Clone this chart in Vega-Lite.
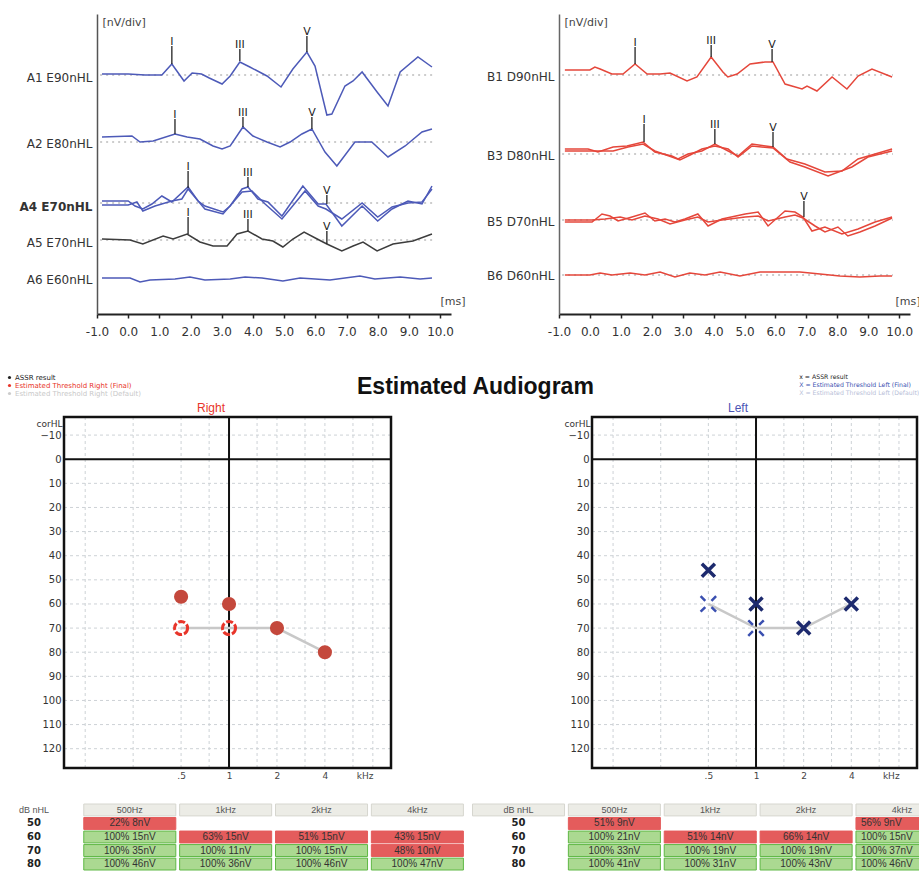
{
"$schema":"https://vega.github.io/schema/vega-lite/v6.json",
"background":"white",
"padding":{"left":6,"top":14,"right":0,"bottom":0},
"config":{"view":{"stroke":null},"font":"DejaVu Sans"},
"title":{"text":"Estimated Audiogram","font":"Liberation Sans","fontSize":23,"fontWeight":"bold","color":"#111111","anchor":"start","frame":"group","dx":260,"dy":408,"offset":0,"baseline":"bottom"},
"columns":2,"bounds":"flush","align":"each","spacing":{"row":103,"column":108},
"resolve":{"scale":{"color":"independent","fill":"independent","stroke":"independent"},"legend":{"color":"independent"}},
"datasets":{
"trL":[
{"s":"A1","t":-0.84,"v":240},{"s":"A1","t":0,"v":240},{"s":"A1","t":0.54,"v":239},{"s":"A1","t":1.08,"v":239},{"s":"A1","t":1.4,"v":250},{"s":"A1","t":1.79,"v":233},{"s":"A1","t":2.05,"v":241},{"s":"A1","t":2.35,"v":240},{"s":"A1","t":2.6,"v":236},{"s":"A1","t":3.01,"v":230},{"s":"A1","t":3.27,"v":238},{"s":"A1","t":3.58,"v":252},{"s":"A1","t":3.9,"v":247},{"s":"A1","t":4.45,"v":238},{"s":"A1","t":4.9,"v":227},{"s":"A1","t":5.28,"v":245},{"s":"A1","t":5.73,"v":262},{"s":"A1","t":5.99,"v":248},{"s":"A1","t":6.37,"v":199},{"s":"A1","t":6.53,"v":200},{"s":"A1","t":6.95,"v":228},{"s":"A1","t":7.21,"v":233},{"s":"A1","t":7.5,"v":242},{"s":"A1","t":7.98,"v":222},{"s":"A1","t":8.33,"v":208},{"s":"A1","t":8.72,"v":242},{"s":"A1","t":9.29,"v":257},{"s":"A1","t":9.74,"v":247},
{"s":"A2","t":-0.84,"v":177},{"s":"A2","t":0.12,"v":178},{"s":"A2","t":0.38,"v":172},{"s":"A2","t":0.8,"v":173},{"s":"A2","t":1.5,"v":180},{"s":"A2","t":1.89,"v":177},{"s":"A2","t":2.3,"v":175},{"s":"A2","t":2.72,"v":168},{"s":"A2","t":3.01,"v":165},{"s":"A2","t":3.27,"v":168},{"s":"A2","t":3.68,"v":187},{"s":"A2","t":4.0,"v":178},{"s":"A2","t":4.45,"v":172},{"s":"A2","t":4.87,"v":167},{"s":"A2","t":5.19,"v":172},{"s":"A2","t":5.57,"v":180},{"s":"A2","t":5.89,"v":185},{"s":"A2","t":6.31,"v":162},{"s":"A2","t":6.69,"v":148},{"s":"A2","t":7.27,"v":172},{"s":"A2","t":7.81,"v":172},{"s":"A2","t":8.33,"v":157},{"s":"A2","t":8.88,"v":168},{"s":"A2","t":9.42,"v":182},{"s":"A2","t":9.74,"v":185},
{"s":"A3","t":-0.84,"v":113},{"s":"A3","t":0,"v":113},{"s":"A3","t":0.22,"v":108},{"s":"A3","t":0.47,"v":105},{"s":"A3","t":0.76,"v":110},{"s":"A3","t":1.08,"v":118},{"s":"A3","t":1.4,"v":112},{"s":"A3","t":1.92,"v":127},{"s":"A3","t":2.24,"v":113},{"s":"A3","t":2.46,"v":108},{"s":"A3","t":3.04,"v":102},{"s":"A3","t":3.27,"v":108},{"s":"A3","t":3.65,"v":125},{"s":"A3","t":3.84,"v":127},{"s":"A3","t":4.16,"v":115},{"s":"A3","t":4.48,"v":112},{"s":"A3","t":4.93,"v":98},{"s":"A3","t":5.6,"v":128},{"s":"A3","t":6.09,"v":110},{"s":"A3","t":6.34,"v":110},{"s":"A3","t":6.85,"v":88},{"s":"A3","t":7.5,"v":108},{"s":"A3","t":8.0,"v":93},{"s":"A3","t":8.46,"v":105},{"s":"A3","t":8.97,"v":113},{"s":"A3","t":9.42,"v":110},{"s":"A3","t":9.74,"v":128},
{"s":"A4","t":-0.84,"v":109},{"s":"A4","t":0,"v":109},{"s":"A4","t":0.28,"v":112},{"s":"A4","t":0.47,"v":103},{"s":"A4","t":0.86,"v":108},{"s":"A4","t":1.4,"v":113},{"s":"A4","t":1.72,"v":115},{"s":"A4","t":1.92,"v":125},{"s":"A4","t":2.46,"v":105},{"s":"A4","t":3.04,"v":100},{"s":"A4","t":3.65,"v":122},{"s":"A4","t":3.97,"v":123},{"s":"A4","t":4.39,"v":110},{"s":"A4","t":4.93,"v":95},{"s":"A4","t":5.67,"v":123},{"s":"A4","t":6.09,"v":108},{"s":"A4","t":6.34,"v":105},{"s":"A4","t":6.85,"v":95},{"s":"A4","t":7.5,"v":111},{"s":"A4","t":8.0,"v":97},{"s":"A4","t":8.46,"v":107},{"s":"A4","t":8.97,"v":111},{"s":"A4","t":9.42,"v":112},{"s":"A4","t":9.74,"v":125},
{"s":"A5","t":-0.84,"v":75},{"s":"A5","t":0.06,"v":74},{"s":"A5","t":0.47,"v":70},{"s":"A5","t":1.12,"v":78},{"s":"A5","t":1.44,"v":75},{"s":"A5","t":1.89,"v":80},{"s":"A5","t":2.3,"v":72},{"s":"A5","t":2.72,"v":68},{"s":"A5","t":3.17,"v":68},{"s":"A5","t":3.49,"v":80},{"s":"A5","t":3.84,"v":83},{"s":"A5","t":4.29,"v":75},{"s":"A5","t":4.64,"v":73},{"s":"A5","t":4.96,"v":67},{"s":"A5","t":5.28,"v":75},{"s":"A5","t":5.64,"v":82},{"s":"A5","t":6.06,"v":75},{"s":"A5","t":6.37,"v":70},{"s":"A5","t":6.85,"v":63},{"s":"A5","t":7.21,"v":68},{"s":"A5","t":7.53,"v":72},{"s":"A5","t":7.98,"v":63},{"s":"A5","t":8.49,"v":70},{"s":"A5","t":9.13,"v":73},{"s":"A5","t":9.74,"v":80},
{"s":"A6","t":-0.84,"v":36},{"s":"A6","t":0.06,"v":36},{"s":"A6","t":0.38,"v":32},{"s":"A6","t":0.7,"v":34},{"s":"A6","t":1.5,"v":35},{"s":"A6","t":1.98,"v":37},{"s":"A6","t":2.46,"v":34},{"s":"A6","t":3.27,"v":35},{"s":"A6","t":3.75,"v":37},{"s":"A6","t":4.29,"v":36},{"s":"A6","t":4.96,"v":33},{"s":"A6","t":5.51,"v":36},{"s":"A6","t":6.47,"v":34},{"s":"A6","t":7.43,"v":38},{"s":"A6","t":7.91,"v":35},{"s":"A6","t":8.72,"v":37},{"s":"A6","t":9.36,"v":35},{"s":"A6","t":9.74,"v":36}
],
"trR":[
{"s":"B1","t":-0.81,"v":244},{"s":"B1","t":0,"v":244},{"s":"B1","t":0.16,"v":247},{"s":"B1","t":0.33,"v":245},{"s":"B1","t":0.71,"v":240},{"s":"B1","t":1.07,"v":240},{"s":"B1","t":1.46,"v":250},{"s":"B1","t":1.85,"v":240},{"s":"B1","t":2.27,"v":240},{"s":"B1","t":2.59,"v":241},{"s":"B1","t":3.14,"v":233},{"s":"B1","t":3.46,"v":237},{"s":"B1","t":3.92,"v":257},{"s":"B1","t":4.3,"v":242},{"s":"B1","t":4.46,"v":237},{"s":"B1","t":4.76,"v":240},{"s":"B1","t":5.18,"v":250},{"s":"B1","t":5.66,"v":252},{"s":"B1","t":5.92,"v":252},{"s":"B1","t":6.31,"v":230},{"s":"B1","t":6.86,"v":225},{"s":"B1","t":7.02,"v":228},{"s":"B1","t":7.34,"v":223},{"s":"B1","t":7.83,"v":237},{"s":"B1","t":8.31,"v":225},{"s":"B1","t":8.67,"v":238},{"s":"B1","t":9.12,"v":245},{"s":"B1","t":9.77,"v":237},
{"s":"B3a","t":-0.81,"v":165},{"s":"B3a","t":-0.06,"v":165},{"s":"B3a","t":0.26,"v":162},{"s":"B3a","t":0.75,"v":167},{"s":"B3a","t":1.2,"v":168},{"s":"B3a","t":1.72,"v":172},{"s":"B3a","t":2.1,"v":162},{"s":"B3a","t":2.65,"v":158},{"s":"B3a","t":2.85,"v":155},{"s":"B3a","t":3.17,"v":160},{"s":"B3a","t":3.62,"v":163},{"s":"B3a","t":4.04,"v":170},{"s":"B3a","t":4.47,"v":163},{"s":"B3a","t":4.79,"v":158},{"s":"B3a","t":5.24,"v":170},{"s":"B3a","t":5.92,"v":167},{"s":"B3a","t":6.37,"v":155},{"s":"B3a","t":6.95,"v":150},{"s":"B3a","t":7.6,"v":142},{"s":"B3a","t":8.15,"v":143},{"s":"B3a","t":8.67,"v":155},{"s":"B3a","t":9.22,"v":160},{"s":"B3a","t":9.77,"v":165},
{"s":"B3b","t":-0.81,"v":163},{"s":"B3b","t":-0.06,"v":163},{"s":"B3b","t":0.26,"v":163},{"s":"B3b","t":0.75,"v":163},{"s":"B3b","t":1.23,"v":167},{"s":"B3b","t":1.72,"v":170},{"s":"B3b","t":2.1,"v":163},{"s":"B3b","t":2.65,"v":157},{"s":"B3b","t":2.91,"v":154},{"s":"B3b","t":3.24,"v":159},{"s":"B3b","t":3.62,"v":165},{"s":"B3b","t":4.04,"v":168},{"s":"B3b","t":4.47,"v":165},{"s":"B3b","t":4.79,"v":157},{"s":"B3b","t":5.24,"v":168},{"s":"B3b","t":5.92,"v":166},{"s":"B3b","t":6.47,"v":152},{"s":"B3b","t":6.95,"v":147},{"s":"B3b","t":7.7,"v":138},{"s":"B3b","t":8.47,"v":147},{"s":"B3b","t":8.99,"v":157},{"s":"B3b","t":9.77,"v":163},
{"s":"B5a","t":-0.81,"v":92},{"s":"B5a","t":0.07,"v":92},{"s":"B5a","t":0.39,"v":100},{"s":"B5a","t":0.65,"v":98},{"s":"B5a","t":0.91,"v":93},{"s":"B5a","t":1.36,"v":97},{"s":"B5a","t":1.78,"v":101},{"s":"B5a","t":2.1,"v":93},{"s":"B5a","t":2.43,"v":95},{"s":"B5a","t":2.75,"v":92},{"s":"B5a","t":3.07,"v":95},{"s":"B5a","t":3.49,"v":100},{"s":"B5a","t":3.82,"v":88},{"s":"B5a","t":4.27,"v":95},{"s":"B5a","t":5.02,"v":100},{"s":"B5a","t":5.44,"v":102},{"s":"B5a","t":5.76,"v":88},{"s":"B5a","t":6.31,"v":103},{"s":"B5a","t":6.63,"v":102},{"s":"B5a","t":6.89,"v":97},{"s":"B5a","t":7.18,"v":83},{"s":"B5a","t":7.6,"v":87},{"s":"B5a","t":8.15,"v":80},{"s":"B5a","t":8.67,"v":85},{"s":"B5a","t":9.22,"v":92},{"s":"B5a","t":9.77,"v":97},
{"s":"B5b","t":-0.81,"v":94},{"s":"B5b","t":0.07,"v":94},{"s":"B5b","t":0.49,"v":95},{"s":"B5b","t":0.98,"v":97},{"s":"B5b","t":1.36,"v":94},{"s":"B5b","t":1.78,"v":98},{"s":"B5b","t":2.2,"v":95},{"s":"B5b","t":2.59,"v":90},{"s":"B5b","t":3.07,"v":94},{"s":"B5b","t":3.49,"v":97},{"s":"B5b","t":3.82,"v":92},{"s":"B5b","t":4.27,"v":94},{"s":"B5b","t":5.02,"v":97},{"s":"B5b","t":5.44,"v":98},{"s":"B5b","t":5.76,"v":93},{"s":"B5b","t":6.31,"v":97},{"s":"B5b","t":6.63,"v":99},{"s":"B5b","t":6.89,"v":96},{"s":"B5b","t":7.28,"v":88},{"s":"B5b","t":7.6,"v":82},{"s":"B5b","t":8.02,"v":87},{"s":"B5b","t":8.34,"v":78},{"s":"B5b","t":8.73,"v":82},{"s":"B5b","t":9.22,"v":88},{"s":"B5b","t":9.77,"v":96},
{"s":"B6","t":-0.81,"v":39},{"s":"B6","t":0,"v":39},{"s":"B6","t":0.33,"v":41},{"s":"B6","t":0.71,"v":39},{"s":"B6","t":1.3,"v":41},{"s":"B6","t":1.78,"v":39},{"s":"B6","t":2.27,"v":42},{"s":"B6","t":2.75,"v":37},{"s":"B6","t":3.23,"v":41},{"s":"B6","t":3.72,"v":39},{"s":"B6","t":4.21,"v":42},{"s":"B6","t":4.85,"v":38},{"s":"B6","t":5.5,"v":42},{"s":"B6","t":6.79,"v":42},{"s":"B6","t":7.44,"v":40},{"s":"B6","t":8.08,"v":38},{"s":"B6","t":8.73,"v":37},{"s":"B6","t":9.38,"v":38},{"s":"B6","t":9.77,"v":38}
],
"mkL":[
{"t":1.4,"pk":250,"top":268,"lab":"I"},{"t":3.58,"pk":253,"top":265,"lab":"III"},{"t":5.73,"pk":262,"top":278,"lab":"V"},
{"t":1.5,"pk":180,"top":195,"lab":"I"},{"t":3.68,"pk":187,"top":197,"lab":"III"},{"t":5.89,"pk":185,"top":197,"lab":"V"},
{"t":1.92,"pk":126,"top":143,"lab":"I"},{"t":3.84,"pk":127,"top":137,"lab":"III"},{"t":6.37,"pk":110,"top":119,"lab":"V"},
{"t":1.92,"pk":80,"top":97,"lab":"I"},{"t":3.84,"pk":83,"top":95,"lab":"III"},{"t":6.37,"pk":70,"top":83,"lab":"V"}
],
"mkR":[
{"t":1.46,"pk":250,"top":267,"lab":"I"},{"t":3.92,"pk":257,"top":269,"lab":"III"},{"t":5.89,"pk":252,"top":265,"lab":"V"},
{"t":1.75,"pk":172,"top":190,"lab":"I"},{"t":4.04,"pk":170,"top":185,"lab":"III"},{"t":5.92,"pk":167,"top":182,"lab":"V"},
{"t":6.92,"pk":97,"top":113,"lab":"V"}
],
"baseL":[{"v":239},{"v":172},{"v":111},{"v":74}],
"baseR":[{"v":239},{"v":160},{"v":94},{"v":39}],
"gridV":[{"f":0.125},{"f":0.25},{"f":0.5},{"f":0.75},{"f":1.5},{"f":2},{"f":3},{"f":4},{"f":6},{"f":8}],
"gridH":[{"db":-10},{"db":10},{"db":20},{"db":30},{"db":40},{"db":50},{"db":60},{"db":70},{"db":80},{"db":90},{"db":100},{"db":110},{"db":120}],
"audR":[{"f":0.5,"db":70,"k":"line"},{"f":1,"db":70,"k":"line"},{"f":2,"db":70,"k":"line"},{"f":4,"db":80,"k":"line"},
{"f":0.5,"db":57,"k":"assr"},{"f":1,"db":60,"k":"assr"},{"f":2,"db":70,"k":"assr"},{"f":4,"db":80,"k":"assr"},
{"f":0.5,"db":70,"k":"open"},{"f":1,"db":70,"k":"open"}],
"audL":[{"f":0.5,"db":60,"k":"line"},{"f":1,"db":70,"k":"line"},{"f":2,"db":70,"k":"line"},{"f":4,"db":60,"k":"line"},
{"f":0.5,"db":46,"k":"assr"},{"f":1,"db":60,"k":"assr"},{"f":2,"db":70,"k":"assr"},{"f":4,"db":60,"k":"assr"},
{"f":0.5,"db":60,"k":"open"},{"f":1,"db":70,"k":"open"}],
"tabL":[
{"c":"lab","r":"H","t":"dB nHL","k":"hdr"},{"c":"500Hz","r":"H","t":"500Hz","k":"hdr"},{"c":"1kHz","r":"H","t":"1kHz","k":"hdr"},{"c":"2kHz","r":"H","t":"2kHz","k":"hdr"},{"c":"4kHz","r":"H","t":"4kHz","k":"hdr"},
{"c":"lab","r":"50","t":"50","k":"lab"},{"c":"lab","r":"60","t":"60","k":"lab"},{"c":"lab","r":"70","t":"70","k":"lab"},{"c":"lab","r":"80","t":"80","k":"lab"},
{"c":"500Hz","r":"50","t":"22%  8nV","k":"fail"},
{"c":"500Hz","r":"60","t":"100%  15nV","k":"ok"},{"c":"1kHz","r":"60","t":"63%  15nV","k":"fail"},{"c":"2kHz","r":"60","t":"51%  15nV","k":"fail"},{"c":"4kHz","r":"60","t":"43%  15nV","k":"fail"},
{"c":"500Hz","r":"70","t":"100%  35nV","k":"ok"},{"c":"1kHz","r":"70","t":"100%  11nV","k":"ok"},{"c":"2kHz","r":"70","t":"100%  15nV","k":"ok"},{"c":"4kHz","r":"70","t":"48%  10nV","k":"fail"},
{"c":"500Hz","r":"80","t":"100%  46nV","k":"ok"},{"c":"1kHz","r":"80","t":"100%  36nV","k":"ok"},{"c":"2kHz","r":"80","t":"100%  46nV","k":"ok"},{"c":"4kHz","r":"80","t":"100%  47nV","k":"ok"}
],
"tabR":[
{"c":"lab","r":"H","t":"dB nHL","k":"hdr"},{"c":"500Hz","r":"H","t":"500Hz","k":"hdr"},{"c":"1kHz","r":"H","t":"1kHz","k":"hdr"},{"c":"2kHz","r":"H","t":"2kHz","k":"hdr"},{"c":"4kHz","r":"H","t":"4kHz","k":"hdr"},
{"c":"lab","r":"50","t":"50","k":"lab"},{"c":"lab","r":"60","t":"60","k":"lab"},{"c":"lab","r":"70","t":"70","k":"lab"},{"c":"lab","r":"80","t":"80","k":"lab"},
{"c":"500Hz","r":"50","t":"51%  9nV","k":"fail"},{"c":"4kHz","r":"50","t":"56%  9nV","k":"fail"},
{"c":"500Hz","r":"60","t":"100%  21nV","k":"ok"},{"c":"1kHz","r":"60","t":"51%  14nV","k":"fail"},{"c":"2kHz","r":"60","t":"66%  14nV","k":"fail"},{"c":"4kHz","r":"60","t":"100%  15nV","k":"ok"},
{"c":"500Hz","r":"70","t":"100%  33nV","k":"ok"},{"c":"1kHz","r":"70","t":"100%  19nV","k":"ok"},{"c":"2kHz","r":"70","t":"100%  19nV","k":"ok"},{"c":"4kHz","r":"70","t":"100%  37nV","k":"ok"},
{"c":"500Hz","r":"80","t":"100%  41nV","k":"ok"},{"c":"1kHz","r":"80","t":"100%  31nV","k":"ok"},{"c":"2kHz","r":"80","t":"100%  43nV","k":"ok"},{"c":"4kHz","r":"80","t":"100%  46nV","k":"ok"}
]
},
"concat":[
{
"width":354,"height":300,
"layer":[
{"data":{"name":"baseL"},"mark":{"type":"rule","color":"#9b9b9b","strokeDash":[2,4],"strokeWidth":1.2},
 "encoding":{
  "x":{"datum":-0.9,"type":"quantitative","scale":{"domain":[-1,10.35],"nice":false,"zero":false},
   "axis":{"values":[-1,0,1,2,3,4,5,6,7,8,9,10],"tickCount":30,"labelExpr":"(datum.value<0?'-':'')+format(abs(datum.value),'.1f')","title":"[ms]","titleX":343,"titleY":-10,"titleAlign":"left","titleBaseline":"alphabetic","titleFontWeight":"normal","titleFontSize":11,"titleColor":"#444444","labelFontSize":12,"labelColor":"#333333","labelPadding":8,"tickSize":4,"tickWidth":1.5,"tickColor":"#222222","domainColor":"#222222","domainWidth":2,"grid":false,"labelOverlap":false,"labelFlush":false,"labelBound":false}},
  "x2":{"datum":9.8},
  "y":{"field":"v","type":"quantitative","scale":{"domain":[0,300],"nice":false,"zero":false},
   "axis":{"values":[237,171,108,72,35],"tickCount":30,"labelExpr":"datum.value==237?'A1 E90nHL':datum.value==171?'A2 E80nHL':datum.value==108?'A4 E70nHL':datum.value==72?'A5 E70nHL':'A6 E60nHL'","labelFontSize":12,"labelColor":"#333333","labelPadding":5,"ticks":false,"domainColor":"#555555","domainWidth":1.5,"grid":false,"labelOverlap":false,"labelFlush":false,"labelBound":false,"labelFontWeight":{"condition":{"test":"datum.value==108","value":"bold"},"value":"normal"},"title":"[nV/div]","titleAngle":0,"titleAlign":"left","titleBaseline":"middle","titleX":5,"titleY":8,"titleFontWeight":"normal","titleFontSize":11,"titleColor":"#444444"}}}},
{"data":{"name":"trL"},"mark":{"type":"line","strokeWidth":1.5},
 "encoding":{
  "x":{"field":"t","type":"quantitative"},
  "y":{"field":"v","type":"quantitative"},
  "color":{"field":"s","type":"nominal","scale":{"domain":["A1","A2","A3","A4","A5","A6"],"range":["#4d5ab8","#4d5ab8","#4d5ab8","#4d5ab8","#3d3d3d","#4d5ab8"]},"legend":null}
 }},
{"data":{"name":"mkL"},"mark":{"type":"rule","color":"#222222","strokeWidth":1.3},
 "encoding":{"x":{"field":"t","type":"quantitative"},"y":{"field":"pk","type":"quantitative"},"y2":{"field":"top"}}},
{"data":{"name":"mkL"},"mark":{"type":"text","fontSize":11,"color":"#222222","baseline":"bottom","dy":1},
 "encoding":{"x":{"field":"t","type":"quantitative"},"y":{"field":"top","type":"quantitative"},"text":{"field":"lab"}}}
]
},
{
"width":351,"height":300,
"layer":[
{"data":{"name":"baseR"},"mark":{"type":"rule","color":"#9b9b9b","strokeDash":[2,4],"strokeWidth":1.2},
 "encoding":{
  "x":{"datum":-0.9,"type":"quantitative","scale":{"domain":[-1,10.35],"nice":false,"zero":false},
   "axis":{"values":[-1,0,1,2,3,4,5,6,7,8,9,10],"tickCount":30,"labelExpr":"(datum.value<0?'-':'')+format(abs(datum.value),'.1f')","title":"[ms]","titleX":336,"titleY":-10,"titleAlign":"left","titleBaseline":"alphabetic","titleFontWeight":"normal","titleFontSize":11,"titleColor":"#444444","labelFontSize":12,"labelColor":"#333333","labelPadding":8,"tickSize":4,"tickWidth":1.5,"tickColor":"#222222","domainColor":"#222222","domainWidth":2,"grid":false,"labelOverlap":false,"labelFlush":false,"labelBound":false}},
  "x2":{"datum":9.8},
  "y":{"field":"v","type":"quantitative","scale":{"domain":[0,300],"nice":false,"zero":false},
   "axis":{"values":[238,159,93,39],"tickCount":30,"labelExpr":"datum.value==238?'B1 D90nHL':datum.value==159?'B3 D80nHL':datum.value==93?'B5 D70nHL':'B6 D60nHL'","labelFontSize":12,"labelColor":"#333333","labelPadding":5,"ticks":false,"domainColor":"#666666","domainWidth":1.5,"grid":false,"labelOverlap":false,"labelFlush":false,"labelBound":false,"title":"[nV/div]","titleAngle":0,"titleAlign":"left","titleBaseline":"middle","titleX":5,"titleY":8,"titleFontWeight":"normal","titleFontSize":11,"titleColor":"#444444"}}}},
{"data":{"name":"trR"},"mark":{"type":"line","strokeWidth":1.5},
 "encoding":{
  "x":{"field":"t","type":"quantitative"},
  "y":{"field":"v","type":"quantitative"},
  "color":{"field":"s","type":"nominal","scale":{"domain":["B1","B3a","B3b","B5a","B5b","B6"],"range":["#e5473b","#e5473b","#e5473b","#e5473b","#e5473b","#e5473b"]},"legend":null}
 }},
{"data":{"name":"mkR"},"mark":{"type":"rule","color":"#222222","strokeWidth":1.3},
 "encoding":{"x":{"field":"t","type":"quantitative"},"y":{"field":"pk","type":"quantitative"},"y2":{"field":"top"}}},
{"data":{"name":"mkR"},"mark":{"type":"text","fontSize":11,"color":"#222222","baseline":"bottom","dy":1},
 "encoding":{"x":{"field":"t","type":"quantitative"},"y":{"field":"top","type":"quantitative"},"text":{"field":"lab"}}}
]
},
{
"width":354,"height":351,
"title":{"text":"Right","color":"#e8352a","fontSize":12,"fontWeight":"normal","font":"Liberation Sans","anchor":"start","frame":"group","dx":100,"dy":44,"offset":3},
"layer":[
{"data":{"name":"gridV"},"mark":{"type":"rule","color":"#cdd2d6","strokeDash":[3,3],"strokeWidth":1},
 "encoding":{"x":{"field":"f","type":"quantitative","scale":{"type":"log","domain":[0.092,10.4],"range":[-33,294],"nice":false},
   "axis":{"values":[0.5,1,2,4,7.1],"tickCount":30,"labelExpr":"datum.value==0.5?'.5':datum.value==1?'1':datum.value==2?'2':datum.value==4?'4':'kHz'","labelFontSize":9,"labelColor":"#444444","labelPadding":3,"ticks":false,"domain":false,"grid":false,"title":null,"labelOverlap":false,"labelFlush":false,"labelBound":false}},
  "y":{"datum":-17.5,"type":"quantitative","scale":{"domain":[-17.5,128],"reverse":true,"nice":false,"zero":false},
   "axis":{"values":[-10,0,10,20,30,40,50,60,70,80,90,100,110,120],"tickCount":30,"labelFontSize":10,"labelColor":"#333333","labelPadding":3,"ticks":false,"domain":false,"grid":false,"offset":33,"title":"corHL","titleAngle":0,"titleAlign":"right","titleBaseline":"middle","titleX":-2,"titleY":6,"titleFontSize":9,"titleFontWeight":"normal","titleColor":"#333333","labelOverlap":false,"labelFlush":false,"labelBound":false}},
  "y2":{"datum":128}}},
{"data":{"name":"gridH"},"mark":{"type":"rule","color":"#cdd2d6","strokeDash":[3,3],"strokeWidth":1},
 "encoding":{"y":{"field":"db","type":"quantitative"},"x":{"datum":0.092,"type":"quantitative"},"x2":{"datum":10.4}}},
{"data":{"values":[{}]},"mark":{"type":"rule","color":"#111111","strokeWidth":2},
 "encoding":{"x":{"datum":1,"type":"quantitative"},"y":{"datum":-17.5,"type":"quantitative"},"y2":{"datum":128}}},
{"data":{"values":[{}]},"mark":{"type":"rule","color":"#111111","strokeWidth":2},
 "encoding":{"y":{"datum":0,"type":"quantitative"},"x":{"datum":0.092,"type":"quantitative"},"x2":{"datum":10.4}}},
{"data":{"values":[{}]},"mark":{"type":"rect","fill":"transparent","stroke":"#111111","strokeWidth":2.5},
 "encoding":{"x":{"datum":0.092,"type":"quantitative"},"x2":{"datum":10.4},"y":{"datum":-17.5,"type":"quantitative"},"y2":{"datum":128}}},
{"data":{"name":"audR"},"transform":[{"filter":"datum.k=='line'"}],"mark":{"type":"line","color":"#c8c8c8","strokeWidth":2.5},
 "encoding":{"x":{"field":"f","type":"quantitative"},"y":{"field":"db","type":"quantitative"}}},
{"data":{"name":"audR"},"transform":[{"filter":"datum.k=='assr'"}],"mark":{"type":"point","shape":"circle","filled":true,"size":200,"color":"#c4483c","opacity":1},
 "encoding":{"x":{"field":"f","type":"quantitative"},"y":{"field":"db","type":"quantitative"}}},
{"data":{"name":"audR"},"transform":[{"filter":"datum.k=='open'"}],"mark":{"type":"point","shape":"circle","filled":false,"size":170,"color":"#e8352a","strokeWidth":3,"strokeDash":[7,2],"opacity":1},
 "encoding":{"x":{"field":"f","type":"quantitative"},"y":{"field":"db","type":"quantitative"}}},
{"data":{"values":[{"item":"ASSR result"},{"item":"Estimated Threshold Right (Final)"},{"item":"Estimated Threshold Right (Default)"}]},
 "mark":{"type":"point","opacity":0,"size":0,"filled":true},
 "encoding":{"color":{"field":"item","type":"nominal","scale":{"domain":["ASSR result","Estimated Threshold Right (Final)","Estimated Threshold Right (Default)"],"range":["#222222","#e8352a","#cccccc"]},
  "legend":{"orient":"none","legendX":-91,"legendY":-43,"title":null,"labelFontSize":7,"symbolSize":10,"symbolType":"circle","symbolOpacity":1,"symbolStrokeWidth":0,"rowPadding":0,"labelOffset":2,"labelLimit":300,"padding":0,
   "encode":{"labels":{"update":{"fill":{"signal":"datum.index==0?'#222222':datum.index==1?'#e8352a':'#c9c9c9'"}}}}}}}}
]
},
{
"width":358,"height":351,
"title":{"text":"Left","color":"#4b55b5","fontSize":12,"fontWeight":"normal","font":"Liberation Sans","anchor":"start","frame":"group","dx":169,"dy":44,"offset":3},
"layer":[
{"data":{"name":"gridV"},"mark":{"type":"rule","color":"#cdd2d6","strokeDash":[3,3],"strokeWidth":1},
 "encoding":{"x":{"field":"f","type":"quantitative","scale":{"type":"log","domain":[0.092,10.4],"range":[33,358],"nice":false},
   "axis":{"values":[0.5,1,2,4,7.1],"tickCount":30,"labelExpr":"datum.value==0.5?'.5':datum.value==1?'1':datum.value==2?'2':datum.value==4?'4':'kHz'","labelFontSize":9,"labelColor":"#444444","labelPadding":3,"ticks":false,"domain":false,"grid":false,"title":null,"labelOverlap":false,"labelFlush":false,"labelBound":false}},
  "y":{"datum":-17.5,"type":"quantitative","scale":{"domain":[-17.5,128],"reverse":true,"nice":false,"zero":false},
   "axis":{"values":[-10,0,10,20,30,40,50,60,70,80,90,100,110,120],"tickCount":30,"labelFontSize":10,"labelColor":"#333333","labelPadding":3,"ticks":false,"domain":false,"grid":false,"offset":-33,"title":"corHL","titleAngle":0,"titleAlign":"right","titleBaseline":"middle","titleX":-2,"titleY":6,"titleFontSize":9,"titleFontWeight":"normal","titleColor":"#333333","labelOverlap":false,"labelFlush":false,"labelBound":false}},
  "y2":{"datum":128}}},
{"data":{"name":"gridH"},"mark":{"type":"rule","color":"#cdd2d6","strokeDash":[3,3],"strokeWidth":1},
 "encoding":{"y":{"field":"db","type":"quantitative"},"x":{"datum":0.092,"type":"quantitative"},"x2":{"datum":10.4}}},
{"data":{"values":[{}]},"mark":{"type":"rule","color":"#111111","strokeWidth":2},
 "encoding":{"x":{"datum":1,"type":"quantitative"},"y":{"datum":-17.5,"type":"quantitative"},"y2":{"datum":128}}},
{"data":{"values":[{}]},"mark":{"type":"rule","color":"#111111","strokeWidth":2},
 "encoding":{"y":{"datum":0,"type":"quantitative"},"x":{"datum":0.092,"type":"quantitative"},"x2":{"datum":10.4}}},
{"data":{"values":[{}]},"mark":{"type":"rect","fill":"transparent","stroke":"#111111","strokeWidth":2.5},
 "encoding":{"x":{"datum":0.092,"type":"quantitative"},"x2":{"datum":10.4},"y":{"datum":-17.5,"type":"quantitative"},"y2":{"datum":128}}},
{"data":{"name":"audL"},"transform":[{"filter":"datum.k=='line'"}],"mark":{"type":"line","color":"#c8c8c8","strokeWidth":2.5},
 "encoding":{"x":{"field":"f","type":"quantitative"},"y":{"field":"db","type":"quantitative"}}},
{"data":{"name":"audL"},"transform":[{"filter":"datum.k=='assr'"}],"mark":{"type":"point","shape":"M-1,-1L1,1M-1,1L1,-1","filled":false,"size":170,"color":"#1d2a6e","strokeWidth":3.5,"opacity":1},
 "encoding":{"x":{"field":"f","type":"quantitative"},"y":{"field":"db","type":"quantitative"}}},
{"data":{"name":"audL"},"transform":[{"filter":"datum.k=='open'"}],"mark":{"type":"point","shape":"M-1,-1L-0.4,-0.4M1,-1L0.4,-0.4M-1,1L-0.4,0.4M1,1L0.4,0.4","filled":false,"size":240,"color":"#3a4fb0","strokeWidth":2.5,"opacity":1},
 "encoding":{"x":{"field":"f","type":"quantitative"},"y":{"field":"db","type":"quantitative"}}},
{"data":{"values":[{"item":"x = ASSR result"},{"item":"X = Estimated Threshold Left (Final)"},{"item":"X = Estimated Threshold Left (Default)"}]},
 "mark":{"type":"point","opacity":0,"size":0,"filled":true},
 "encoding":{"color":{"field":"item","type":"nominal","scale":{"domain":["x = ASSR result","X = Estimated Threshold Left (Final)","X = Estimated Threshold Left (Default)"],"range":["#222222","#3a4fb0","#c0c8dd"]},
  "legend":{"orient":"none","legendX":234,"legendY":-43,"title":null,"labelFontSize":6.2,"symbolSize":1,"symbolType":"circle","symbolOpacity":0,"symbolStrokeWidth":0,"rowPadding":1,"labelOffset":0,"labelLimit":300,"padding":0,
   "encode":{"labels":{"update":{"fill":{"signal":"datum.index==0?'#222222':datum.index==1?'#3a4fb0':'#b8c0d8'"}}}}}}}}
]
},
{
"width":354,"height":2,
"data":{"name":"tabL"},
"encoding":{
 "x":{"field":"c","type":"nominal","scale":{"domain":["lab","500Hz","1kHz","2kHz","4kHz"],"range":[-109.1,366.4],"paddingInner":0.04,"paddingOuter":0},"axis":null},
 "y":{"field":"r","type":"nominal","scale":{"domain":["H","50","60","70","80"],"range":[-67,-1],"paddingInner":0.12,"paddingOuter":0},"axis":null}
},
"layer":[
{"transform":[{"filter":"datum.k=='hdr' && datum.c!='lab'"}],"mark":{"type":"rect","fill":"#ecece6","stroke":"#d6d6cf","strokeWidth":1}},
{"transform":[{"filter":"datum.k=='ok' || datum.k=='fail'"}],"mark":{"type":"rect","strokeWidth":1},
 "encoding":{"fill":{"field":"k","type":"nominal","scale":{"domain":["ok","fail"],"range":["#abd991","#e45c5c"]},"legend":null},
  "stroke":{"field":"k","type":"nominal","scale":{"domain":["ok","fail"],"range":["#5fb845","#e45c5c"]},"legend":null}}},
{"transform":[{"filter":"datum.k=='hdr'"}],"mark":{"type":"text","fontSize":9,"color":"#555555","font":"Liberation Sans"},"encoding":{"text":{"field":"t"}}},
{"transform":[{"filter":"datum.k=='lab'"}],"mark":{"type":"text","fontSize":10,"fontWeight":"bold","color":"#222222"},"encoding":{"text":{"field":"t"}}},
{"transform":[{"filter":"datum.k=='ok' || datum.k=='fail'"}],"mark":{"type":"text","fontSize":10,"font":"Liberation Sans","color":"#333333"},"encoding":{"text":{"field":"t"}}}
]
},
{
"width":360,"height":2,
"data":{"name":"tabR"},
"encoding":{
 "x":{"field":"c","type":"nominal","scale":{"domain":["lab","500Hz","1kHz","2kHz","4kHz"],"range":[-86.5,389],"paddingInner":0.04,"paddingOuter":0},"axis":null},
 "y":{"field":"r","type":"nominal","scale":{"domain":["H","50","60","70","80"],"range":[-67,-1],"paddingInner":0.12,"paddingOuter":0},"axis":null}
},
"layer":[
{"transform":[{"filter":"datum.k=='hdr'"}],"mark":{"type":"rect","fill":"#ecece6","stroke":"#d6d6cf","strokeWidth":1}},
{"transform":[{"filter":"datum.k=='ok' || datum.k=='fail'"}],"mark":{"type":"rect","strokeWidth":1},
 "encoding":{"fill":{"field":"k","type":"nominal","scale":{"domain":["ok","fail"],"range":["#abd991","#e45c5c"]},"legend":null},
  "stroke":{"field":"k","type":"nominal","scale":{"domain":["ok","fail"],"range":["#5fb845","#e45c5c"]},"legend":null}}},
{"transform":[{"filter":"datum.k=='hdr'"}],"mark":{"type":"text","fontSize":9,"color":"#555555","font":"Liberation Sans"},"encoding":{"text":{"field":"t"}}},
{"transform":[{"filter":"datum.k=='lab'"}],"mark":{"type":"text","fontSize":10,"fontWeight":"bold","color":"#222222"},"encoding":{"text":{"field":"t"}}},
{"transform":[{"filter":"(datum.k=='ok' || datum.k=='fail') && datum.c!='4kHz'"}],"mark":{"type":"text","fontSize":10,"font":"Liberation Sans","color":"#333333"},"encoding":{"text":{"field":"t"}}},
{"transform":[{"filter":"(datum.k=='ok' || datum.k=='fail') && datum.c=='4kHz'"}],"mark":{"type":"text","fontSize":10,"font":"Liberation Sans","color":"#333333","align":"left","dx":5},
 "encoding":{"x":{"field":"c","type":"nominal","bandPosition":0},"text":{"field":"t"}}}
]
}
]
}
